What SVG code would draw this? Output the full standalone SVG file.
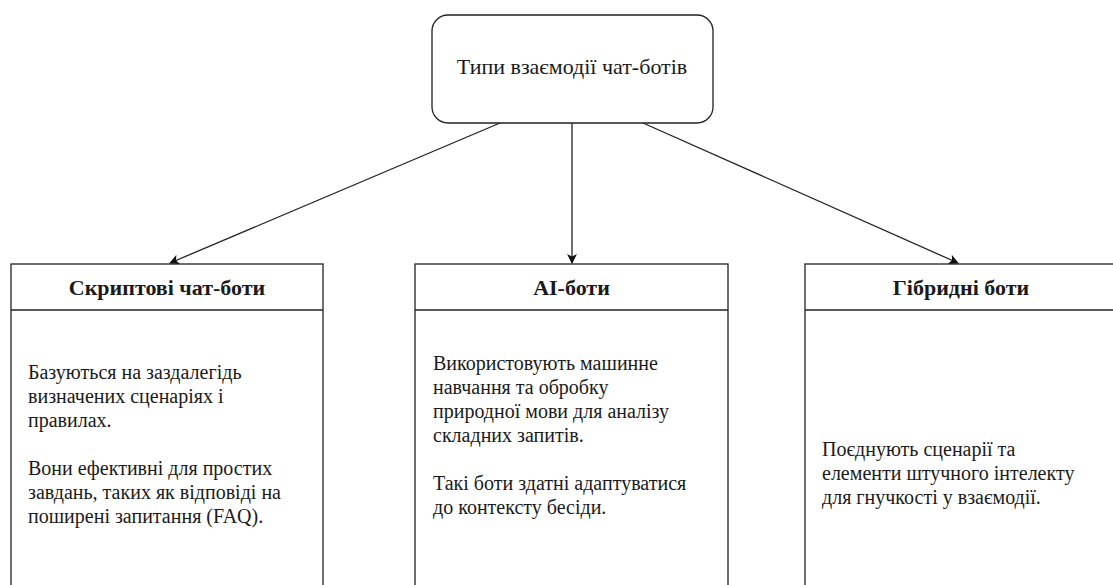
<svg xmlns="http://www.w3.org/2000/svg" width="1113" height="585" viewBox="0 0 1113 585">
<defs>
<style>
.box{fill:#fff;stroke:#222;stroke-width:1.3}
.ln{fill:none;stroke:#222;stroke-width:1.3}
.t{font-family:"Liberation Serif","Times New Roman",serif;font-size:20px;fill:#1a1a1a}
.h{font-weight:bold;text-anchor:middle;font-size:22px}
.c{text-anchor:middle;font-size:22px}
</style>
<marker id="arr" viewBox="0 0 10 10" refX="9" refY="5" markerWidth="10" markerHeight="10" markerUnits="userSpaceOnUse" orient="auto">
<path d="M0,0 L10,5 L0,10 L2.5,5 Z" fill="#111"/>
</marker>
</defs>
<rect width="1113" height="585" fill="#fff"/>
<g id="connectors">
<line class="ln" x1="572" y1="123" x2="572" y2="263" marker-end="url(#arr)"/>
<line class="ln" x1="500" y1="123" x2="170" y2="263" marker-end="url(#arr)"/>
<line class="ln" x1="643" y1="123" x2="958" y2="263" marker-end="url(#arr)"/>
</g>
<g id="root">
<rect class="box" x="432" y="15" width="281" height="108" rx="16" ry="16"/>
<text class="t c" x="572" y="74">Типи взаємодії чат-ботів</text>
</g>
<g id="scripted">
<rect class="box" x="11" y="264" width="312" height="340"/>
<line class="ln" x1="11" y1="310" x2="323" y2="310"/>
<text class="t h" x="167" y="295">Скриптові чат-боти</text>
<text class="t" x="28" y="379">Базуються на заздалегідь</text>
<text class="t" x="28" y="403">визначених сценаріях і</text>
<text class="t" x="28" y="427">правилах.</text>
<text class="t" x="28" y="475">Вони ефективні для простих</text>
<text class="t" x="28" y="499">завдань, таких як відповіді на</text>
<text class="t" x="28" y="523">поширені запитання (FAQ).</text>
</g>
<g id="ai">
<rect class="box" x="415" y="264" width="313" height="340"/>
<line class="ln" x1="415" y1="310" x2="728" y2="310"/>
<text class="t h" x="571.5" y="295">AI-боти</text>
<text class="t" x="433" y="370">Використовують машинне</text>
<text class="t" x="433" y="394">навчання та обробку</text>
<text class="t" x="433" y="418">природної мови для аналізу</text>
<text class="t" x="433" y="442">складних запитів.</text>
<text class="t" x="433" y="490">Такі боти здатні адаптуватися</text>
<text class="t" x="433" y="514">до контексту бесіди.</text>
</g>
<g id="hybrid">
<rect class="box" x="805" y="264" width="320" height="340"/>
<line class="ln" x1="805" y1="310" x2="1125" y2="310"/>
<text class="t h" x="961" y="295">Гібридні боти</text>
<text class="t" x="822" y="456">Поєднують сценарії та</text>
<text class="t" x="822" y="480">елементи штучного інтелекту</text>
<text class="t" x="822" y="504">для гнучкості у взаємодії.</text>
</g>
</svg>
